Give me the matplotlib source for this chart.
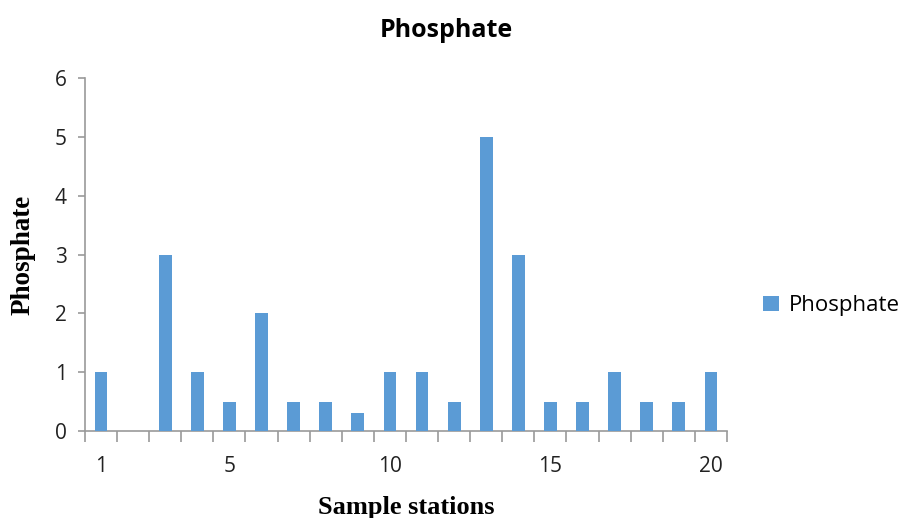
import matplotlib
matplotlib.use("Agg")
import matplotlib.pyplot as plt
import numpy as np

stations = list(range(1, 21))
phosphate = [1, 0, 3, 1, 0.5, 2, 0.5, 0.5, 0.3, 1, 1, 0.5, 5, 3, 0.5, 0.5, 1, 0.5, 0.5, 1]
xtick_labels = [1, 5, 10, 15, 20]
ytick_values = [0, 1, 2, 3, 4, 5, 6]

fig = plt.figure(figsize=(9.03, 5.18), dpi=100)
ax = fig.add_axes([0.0941, 0.168, 0.711, 0.681])

bar_color = "#5B9BD5"
ax.bar(stations, phosphate, width=0.4, color=bar_color, label="Phosphate", zorder=3)

ax.set_xlim(0.5, 20.5)
ax.set_ylim(0, 6)
ax.set_yticks(ytick_values)
ax.set_xticks(xtick_labels)
ax.set_xticks(np.arange(0.5, 21.0, 1.0), minor=True)

for s in ["top", "right"]:
    ax.spines[s].set_visible(False)
for s in ["left", "bottom"]:
    ax.spines[s].set_color("#9A9A9A")
    ax.spines[s].set_linewidth(1.2)

tick_font = "Open Sans"
ax.tick_params(axis="x", which="major", length=0, pad=18, labelsize=15, labelcolor="#222222")
ax.tick_params(axis="x", which="minor", length=8, width=1.2, color="#9A9A9A", direction="out")
ax.tick_params(axis="y", which="major", length=5, width=1.2, color="#9A9A9A", pad=8, labelsize=15, labelcolor="#222222")
for lbl in ax.get_xticklabels() + ax.get_yticklabels():
    lbl.set_fontfamily(tick_font)

fig.text(0.494, 0.942, "Phosphate", fontsize=18, fontweight="bold", family="Open Sans",
         ha="center", va="center")
ax.set_xlabel("Sample stations", fontsize=19, fontweight="bold", family="Liberation Serif", labelpad=14)
ax.set_ylabel("Phosphate", fontsize=19.5, fontweight="bold", family="Liberation Serif", labelpad=14)

leg = fig.legend(loc="center left", bbox_to_anchor=(0.845, 0.41), frameon=False,
                 prop={"family": "Open Sans", "size": 16}, handlelength=0.7, handleheight=0.7,
                 handletextpad=0.45, borderaxespad=0, borderpad=0)

fig.savefig("out.png", dpi=100)
